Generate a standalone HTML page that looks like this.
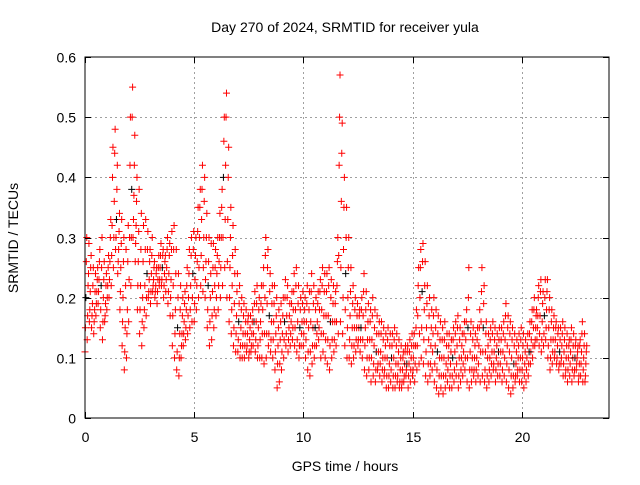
<!DOCTYPE html>
<html><head><meta charset="utf-8"><style>
body{margin:0;background:#fff}
text{font-family:"Liberation Sans",sans-serif;font-size:14px;fill:#000}
</style></head><body>
<svg id="chart" width="640" height="480" xmlns="http://www.w3.org/2000/svg">
<rect width="640" height="480" fill="#fff"/>
<g id="grid"></g>
<g id="marks"></g>
<rect x="85" y="57" width="524" height="361" fill="none" stroke="#000" stroke-width="1"/>
<g id="ticks"></g>
<text x="345" y="32" text-anchor="middle">Day 270 of 2024, SRMTID for receiver yula</text>
<text x="345" y="471" text-anchor="middle">GPS time / hours</text>
<text x="18" y="238" text-anchor="middle" transform="rotate(-90 18 238)">SRMTID / TECUs</text>
</svg>
<script>
const xTicks=[0,5,10,15,20];
const yTicks=[0,0.1,0.2,0.3,0.4,0.5,0.6];
const yTickLabels=["0","0.1","0.2","0.3","0.4","0.5","0.6"];
const timeStep=0.1;
const srmtidHigh=[.30,.29,.27,.25,.24,.25,.28,.30,.26,.24,.27,.33,.45,.48,.42,.34,.33,.30,.28,.32,.50,.55,.47,.40,.38,.34,.32,.33,.31,.28,.30,.26,.25,.27,.29,.28,.27,.30,.29,.31,.32,.28,.24,.22,.20,.21,.25,.28,.30,.31,.30,.35,.38,.42,.40,.34,.30,.29,.29,.28,.30,.34,.38,.50,.54,.45,.35,.32,.28,.24,.22,.20,.19,.18,.17,.17,.18,.21,.22,.20,.22,.25,.30,.28,.24,.22,.22,.20,.18,.19,.20,.23,.22,.19,.21,.24,.25,.22,.20,.21,.20,.22,.21,.24,.22,.20,.21,.23,.25,.24,.24,.25,.23,.22,.21,.30,.57,.49,.40,.35,.30,.25,.22,.20,.19,.18,.20,.24,.21,.19,.18,.20,.18,.17,.16,.16,.15,.14,.15,.14,.14,.15,.14,.13,.12,.11,.12,.12,.13,.14,.14,.18,.25,.28,.29,.26,.22,.20,.18,.20,.18,.17,.16,.15,.16,.14,.14,.13,.15,.16,.17,.15,.14,.16,.18,.25,.16,.15,.14,.15,.18,.25,.22,.16,.14,.15,.16,.15,.14,.15,.15,.16,.19,.17,.16,.15,.14,.13,.14,.15,.14,.13,.14,.16,.18,.20,.18,.22,.23,.21,.23,.23,.20,.18,.17,.16,.15,.15,.16,.15,.14,.13,.15,.14,.13,.12,.13,.16,.14,.12];
const srmtidUpperMid=[.26,.24,.25,.22,.21,.23,.26,.25,.23,.22,.25,.30,.40,.44,.38,.31,.29,.26,.22,.26,.42,.50,.42,.36,.31,.28,.26,.28,.28,.26,.27,.25,.24,.25,.27,.27,.26,.28,.27,.28,.28,.24,.20,.18,.17,.19,.22,.24,.27,.28,.27,.31,.35,.38,.36,.30,.26,.24,.25,.25,.27,.30,.35,.46,.50,.40,.30,.27,.24,.21,.19,.18,.17,.16,.16,.15,.16,.19,.19,.18,.19,.22,.27,.25,.21,.19,.19,.17,.15,.16,.17,.20,.20,.17,.19,.21,.22,.19,.18,.19,.18,.19,.18,.21,.19,.18,.19,.21,.22,.21,.21,.22,.20,.19,.19,.26,.50,.44,.35,.30,.25,.21,.19,.18,.17,.17,.18,.21,.18,.16,.16,.17,.15,.14,.14,.14,.13,.12,.13,.12,.12,.13,.12,.11,.10,.10,.11,.11,.11,.12,.12,.15,.22,.25,.26,.22,.19,.17,.15,.17,.15,.14,.13,.13,.13,.12,.12,.11,.13,.14,.15,.13,.12,.14,.16,.20,.14,.13,.12,.13,.15,.21,.19,.14,.12,.13,.14,.13,.12,.13,.13,.14,.17,.15,.14,.13,.12,.11,.12,.13,.12,.11,.12,.14,.16,.18,.17,.20,.21,.19,.20,.21,.18,.16,.15,.15,.14,.13,.14,.13,.12,.12,.13,.12,.12,.11,.12,.14,.12,.11];
const srmtidMid=[.20,.22,.21,.19,.18,.21,.23,.22,.20,.19,.22,.26,.32,.36,.33,.28,.25,.20,.15,.18,.30,.38,.37,.32,.26,.22,.20,.22,.24,.23,.24,.23,.22,.23,.25,.25,.24,.25,.24,.23,.22,.18,.15,.14,.14,.16,.18,.20,.22,.24,.23,.26,.30,.33,.30,.26,.22,.20,.21,.22,.24,.26,.30,.40,.42,.33,.25,.22,.19,.17,.16,.15,.14,.14,.14,.13,.14,.16,.16,.15,.16,.18,.20,.19,.17,.16,.16,.14,.12,.13,.14,.16,.17,.15,.16,.18,.18,.16,.15,.16,.16,.16,.15,.16,.15,.15,.16,.18,.18,.17,.17,.17,.16,.16,.16,.22,.42,.36,.28,.24,.20,.17,.15,.15,.15,.15,.15,.17,.15,.13,.13,.13,.12,.11,.11,.11,.10,.10,.10,.09,.10,.10,.09,.09,.08,.08,.09,.09,.09,.10,.10,.12,.17,.20,.21,.18,.15,.13,.12,.14,.12,.11,.10,.10,.10,.09,.10,.09,.10,.11,.12,.10,.10,.11,.13,.15,.11,.10,.10,.10,.12,.16,.15,.11,.10,.10,.11,.11,.10,.11,.11,.11,.13,.12,.11,.10,.09,.09,.10,.10,.10,.09,.10,.11,.13,.15,.15,.17,.17,.16,.17,.18,.15,.13,.13,.13,.12,.11,.12,.11,.10,.10,.11,.10,.10,.10,.09,.11,.10,.09];
const srmtidLowerMid=[.15,.17,.18,.17,.16,.19,.21,.18,.16,.17,.20,.23,.27,.30,.30,.26,.21,.16,.11,.14,.23,.30,.33,.29,.22,.18,.16,.18,.20,.21,.21,.22,.21,.21,.23,.23,.22,.23,.21,.20,.17,.14,.11,.10,.12,.14,.15,.17,.18,.20,.19,.22,.25,.27,.25,.23,.18,.16,.17,.18,.20,.22,.25,.30,.33,.26,.20,.18,.15,.14,.13,.12,.12,.12,.12,.11,.12,.14,.13,.12,.13,.14,.14,.14,.14,.13,.13,.11,.09,.09,.11,.13,.14,.13,.14,.15,.15,.13,.12,.14,.14,.13,.11,.11,.12,.12,.14,.15,.14,.14,.13,.13,.12,.13,.13,.16,.27,.25,.20,.18,.15,.13,.12,.12,.13,.13,.13,.13,.12,.10,.10,.10,.09,.08,.09,.09,.08,.08,.07,.07,.08,.07,.07,.07,.06,.06,.07,.08,.07,.08,.08,.09,.12,.14,.15,.13,.11,.09,.09,.11,.09,.08,.07,.07,.07,.07,.08,.07,.07,.08,.09,.07,.08,.09,.10,.10,.08,.08,.08,.08,.09,.11,.11,.08,.07,.08,.09,.09,.08,.09,.09,.08,.10,.09,.08,.07,.07,.07,.08,.08,.08,.07,.08,.09,.11,.12,.13,.15,.14,.13,.14,.15,.12,.10,.11,.11,.10,.09,.10,.09,.08,.08,.09,.08,.08,.09,.07,.09,.08,.07];
const srmtidLow=[.11,.13,.16,.15,.14,.17,.19,.15,.13,.16,.18,.20,.22,.25,.28,.24,.18,.12,.08,.10,.16,.22,.30,.26,.18,.14,.12,.15,.17,.20,.19,.21,.20,.19,.22,.22,.20,.21,.19,.17,.12,.10,.08,.07,.10,.12,.13,.14,.15,.16,.16,.18,.20,.22,.21,.20,.15,.12,.13,.15,.17,.18,.20,.22,.25,.20,.16,.14,.12,.11,.11,.10,.10,.10,.11,.10,.11,.12,.11,.10,.10,.10,.09,.10,.12,.11,.10,.08,.05,.06,.08,.10,.12,.11,.12,.13,.12,.11,.10,.12,.12,.10,.08,.07,.09,.10,.12,.13,.10,.11,.10,.09,.08,.10,.11,.12,.14,.16,.14,.12,.10,.10,.09,.10,.11,.12,.11,.10,.08,.07,.08,.06,.07,.06,.08,.07,.06,.07,.05,.05,.06,.05,.05,.06,.05,.05,.06,.07,.05,.06,.07,.06,.08,.09,.10,.09,.07,.06,.07,.08,.06,.05,.04,.05,.04,.05,.06,.05,.05,.06,.07,.05,.06,.07,.08,.06,.05,.06,.07,.06,.07,.06,.07,.06,.05,.06,.07,.08,.06,.07,.07,.06,.07,.06,.05,.04,.05,.06,.07,.06,.06,.05,.06,.07,.09,.10,.12,.13,.12,.11,.12,.13,.10,.08,.09,.10,.09,.08,.09,.07,.07,.06,.07,.06,.07,.08,.06,.07,.06,.06];

const NS='http://www.w3.org/2000/svg';
const X0=85,X1=609,Y0=418,Y1=57;
const xScale=v=>X0+v/24*(X1-X0);
const yScale=v=>Y0-v/0.6*(Y0-Y1);
const grid=document.getElementById('grid'),ticks=document.getElementById('ticks'),marks=document.getElementById('marks');
function ln(p,x1,y1,x2,y2,c,dash){const l=document.createElementNS(NS,'line');l.setAttribute('x1',x1);l.setAttribute('y1',y1);l.setAttribute('x2',x2);l.setAttribute('y2',y2);l.setAttribute('stroke',c);l.setAttribute('stroke-width','1');if(dash)l.setAttribute('stroke-dasharray',dash);p.appendChild(l);return l;}
function tx(p,x,y,s,anchor){const t=document.createElementNS(NS,'text');t.setAttribute('x',x);t.setAttribute('y',y);t.setAttribute('text-anchor',anchor);t.textContent=s;p.appendChild(t);return t;}
xTicks.forEach(v=>{const x=Math.round(xScale(v))+0.5;
 if(v>0){const g=ln(grid,x,Y1,x,Y0,'#a0a0a0','2,3');
 
 }
 ln(ticks,x,Y0,x,Y0-6,'#000');ln(ticks,x,Y1,x,Y1+6,'#000');
 const t=tx(ticks,x,Y0+24,String(v),'middle');
 
 });
yTicks.forEach((v,i)=>{const y=Math.round(yScale(v))+0.5;
 if(i>0&&i<yTicks.length-1){const g=ln(grid,X0,y,X1,y,'#a0a0a0','2,3');
 
 }
 ln(ticks,X0,y,X0+6,y,'#000');ln(ticks,X1,y,X1-6,y,'#000');
 const t=tx(ticks,X0-9,y+5,yTickLabels[i],'end');
 
 });
function plus(t,v,c){const x=xScale(t),y=yScale(v);const g=document.createElementNS(NS,'path');
 g.setAttribute('d',`M${x-3.5},${y}h7M${x},${y-3.5}v7`);g.setAttribute('stroke',c);g.setAttribute('stroke-width','1');
 
 
 marks.appendChild(g);}
[srmtidLow,srmtidLowerMid,srmtidMid,srmtidUpperMid,srmtidHigh].forEach((arr,k)=>arr.forEach((v,i)=>{
 const t=i*timeStep+k*0.02;
 plus(t,v,(k===2&&i%7===0)?'#000':'#ff0000');}));
</script>
</body></html>
